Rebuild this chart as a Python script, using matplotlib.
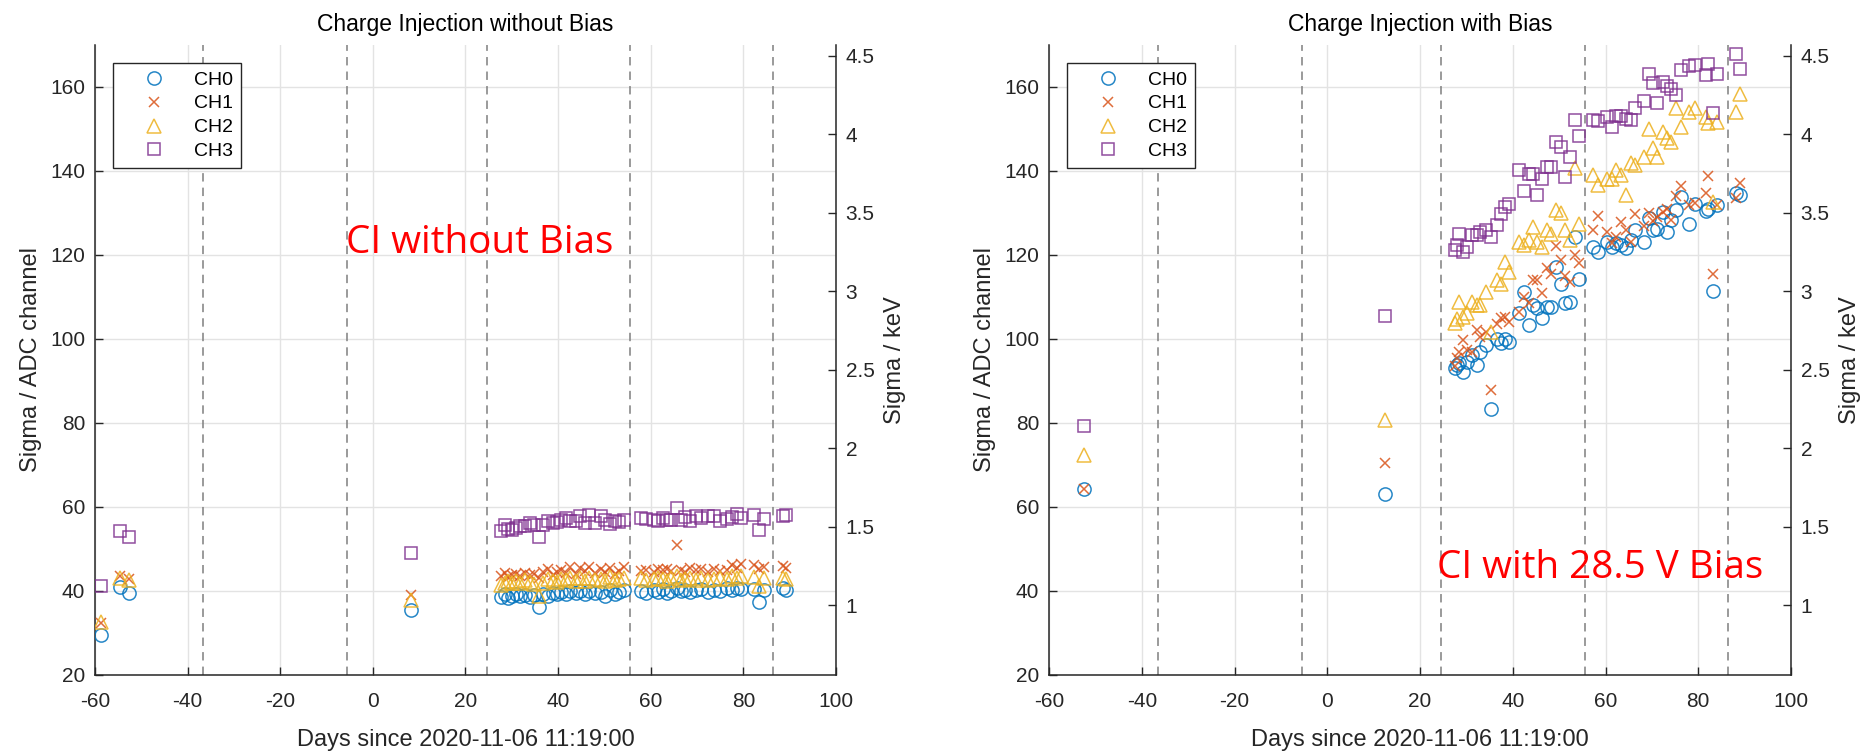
import numpy as np
import matplotlib
matplotlib.use("Agg")
import matplotlib.pyplot as plt
from matplotlib.ticker import FuncFormatter

# ---------------- data ----------------
channels = ["CH0", "CH1", "CH2", "CH3"]
colors = ["#0072BD", "#D95319", "#EDB120", "#7E2F8E"]
markers = ["o", "x", "^", "s"]
msizes = [9.5, 7.5, 10.5, 8.0]

dashed_days = [-36.6, -5.5, 24.6, 55.5, 86.4]

# Left panel: CI without bias
L_days = [-58.6, -54.6, -52.7, 8.3,
          27.7, 28.5, 29.2, 30.0, 30.8, 31.7, 32.8, 33.9, 34.8, 35.8,
          36.8, 37.8, 38.9, 39.8, 40.7, 41.6, 42.5, 43.8, 44.8, 45.7,
          46.6, 47.9, 49.2, 50.1, 51.1, 52.2, 53.2, 54.2, 57.9, 59.0,
          60.7, 61.5, 62.6, 63.5, 64.4, 65.6, 66.6, 67.5, 68.4, 69.8,
          70.9, 72.3, 73.7, 75.0, 76.4, 77.5, 78.6, 79.5, 82.4, 83.4,
          84.4, 88.5, 89.2]
L_ch0 = [29.5, 40.9, 39.5, 35.5,
         38.6, 39.2, 38.4, 38.9, 39.3, 38.7, 39.0, 38.5, 39.1, 36.3,
         39.4, 38.8, 39.6, 39.2, 39.8, 39.3, 40.0, 39.5, 39.9, 39.2,
         40.1, 39.6, 39.8, 38.9, 40.2, 39.4, 39.7, 40.3, 40.0, 39.6,
         40.2, 39.8, 40.4, 39.5, 40.1, 40.6, 39.9, 40.3, 39.7, 40.2,
         40.5, 39.8, 40.3, 40.0, 40.6, 40.2, 40.8, 40.4, 40.5, 37.5,
         40.3, 40.6, 40.2]
L_ch1 = [32.5, 43.5, 42.8, 39.0,
         43.6, 44.2, 43.3, 43.9, 44.0, 43.5, 44.4, 43.8, 44.1, 43.0,
         44.5, 45.2, 43.9, 44.6, 45.0, 44.3, 45.6, 44.1, 45.4, 44.8,
         45.8, 44.2, 45.3, 44.6, 45.5, 44.0, 44.7, 45.6, 44.8, 45.0,
         44.6, 45.2, 44.9, 45.3, 44.7, 51.0, 45.1, 44.5, 45.4, 44.9,
         45.2, 44.6, 45.3, 44.8, 45.0, 46.2, 45.5, 46.4, 46.3, 45.2,
         45.6, 46.0, 45.4]
L_ch2 = [32.7, 43.0, 42.6, 37.9,
         41.5, 42.0, 42.3, 41.8, 42.5, 41.9, 42.7, 42.2, 41.6, 38.7,
         42.0, 42.8, 42.4, 42.1, 42.9, 42.6, 43.1, 42.5, 43.0, 42.3,
         43.2, 42.7, 42.9, 42.4, 43.3, 42.6, 42.8, 43.0, 43.1, 42.7,
         42.9, 43.2, 42.8, 42.5, 43.0, 43.6, 42.6, 42.9, 43.1, 42.7,
         43.2, 42.6, 42.9, 43.0, 42.8, 43.5, 43.2, 43.6, 43.4, 41.1,
         43.0, 43.1, 42.9]
L_ch3 = [41.3, 54.3, 52.9, 49.0,
         54.4, 55.8, 54.8, 54.6, 55.0, 55.4, 55.4, 56.2, 55.6, 52.9,
         55.8, 56.6, 56.2, 56.4, 57.0, 57.4, 56.6, 56.6, 57.8, 56.2,
         58.2, 56.2, 57.8, 57.0, 56.0, 56.6, 56.4, 57.0, 57.4, 57.2,
         57.0, 56.6, 57.4, 57.0, 57.0, 59.8, 57.0, 57.6, 56.6, 57.8,
         57.4, 57.8, 57.8, 56.6, 57.1, 57.6, 58.4, 57.4, 58.2, 54.6,
         57.1, 57.8, 58.2]

# Right panel: CI with 28.5 V bias
R_days = [-52.5, 12.4,
          27.5, 27.9, 28.4, 29.3, 30.2, 31.3, 32.3, 33.0, 34.2, 35.4,
          36.5, 37.4, 38.3, 39.1, 41.3, 42.4, 43.5, 44.4, 45.3, 46.3,
          47.3, 48.3, 49.3, 50.3, 51.2, 52.3, 53.4, 54.3, 57.2, 58.3,
          60.3, 61.4, 62.3, 63.3, 64.4, 65.4, 66.3, 68.2, 69.3, 70.2,
          71.2, 72.3, 73.3, 74.2, 75.1, 76.2, 78.0, 79.2, 81.7, 82.2,
          83.2, 84.1, 88.1, 89.1]
R_ch0 = [64.4, 63.0,
         93.0, 93.8, 94.2, 92.2, 94.6, 96.2, 93.8, 97.0, 98.6, 83.3,
         100.1, 99.0, 100.1, 99.4, 106.1, 111.1, 103.3, 108.1, 107.3, 104.9,
         107.7, 107.7, 117.2, 113.2, 108.5, 108.9, 124.4, 114.4, 122.0, 120.8,
         123.2, 122.0, 122.8, 122.4, 121.6, 123.5, 125.9, 123.0, 128.7, 126.0,
         126.3, 130.3, 125.5, 128.3, 130.7, 133.9, 127.4, 132.1, 130.5, 130.9,
         111.4, 131.9, 134.8, 134.3]
R_ch1 = [64.4, 70.4,
         93.6, 95.5, 97.0, 99.8, 97.5, 97.0, 102.1, 100.5, 101.7, 87.8,
         103.5, 104.9, 105.3, 104.0, 106.5, 110.1, 108.5, 114.0, 114.0, 110.9,
         116.8, 115.5, 122.1, 118.8, 115.0, 113.6, 120.0, 118.0, 125.9, 129.3,
         125.5, 122.8, 124.4, 127.9, 126.0, 123.2, 129.7, 127.0, 129.9, 128.0,
         129.1, 130.3, 131.0, 128.3, 134.0, 136.4, 131.9, 132.5, 134.7, 138.8,
         115.5, 131.9, 133.5, 137.1]
R_ch2 = [72.5, 80.7,
         103.9, 104.7, 108.9, 105.3, 106.1, 108.9, 108.1, 108.1, 111.3, 101.7,
         114.0, 113.2, 118.4, 116.0, 123.2, 122.4, 123.6, 126.7, 123.2, 122.0,
         126.0, 125.0, 130.7, 129.9, 126.0, 123.6, 140.6, 127.5, 139.0, 136.7,
         138.2, 138.2, 140.2, 139.0, 134.3, 141.8, 141.4, 143.4, 150.1, 145.4,
         143.4, 149.4, 147.8, 147.0, 154.9, 150.5, 154.1, 154.9, 152.9, 151.5,
         132.7, 151.7, 154.1, 158.3]
R_ch3 = [79.4, 105.5,
         121.3, 122.5, 124.9, 120.6, 122.0, 124.8, 124.8, 125.5, 125.9, 124.4,
         127.1, 129.7, 131.5, 132.1, 140.2, 135.2, 139.2, 139.3, 134.4, 138.0,
         141.0, 141.0, 147.0, 145.6, 138.6, 143.4, 152.1, 148.4, 152.1, 151.9,
         152.9, 150.4, 153.1, 153.2, 152.3, 152.1, 155.1, 156.7, 163.1, 160.9,
         156.3, 161.1, 160.3, 159.5, 158.1, 164.0, 165.1, 165.2, 162.8, 165.5,
         153.7, 163.0, 167.8, 164.4]

xticks = list(range(-60, 101, 20))
yticks = list(range(20, 161, 20))
kev_ticks = [1, 1.5, 2, 2.5, 3, 3.5, 4, 4.5]
ADC_TO_KEV = 0.02675
KEV_OFFSET = 0.022

titles = ["Charge Injection without Bias", "Charge Injection with Bias"]
notes = ["CI without Bias", "CI with 28.5 V Bias"]
note_pos = [(-5.8, 120.5), (23.6, 43.0)]
xlabel = "Days since 2020-11-06 11:19:00"
ylabel_l = "Sigma / ADC channel"
ylabel_r = "Sigma / keV"

# ---------------- plotting ----------------
plt.rcParams["font.family"] = ["Liberation Sans", "DejaVu Sans"]
plt.rcParams["axes.unicode_minus"] = False
AXC = "#262626"

fig = plt.figure(figsize=(18.7, 7.52), dpi=100)
rects = [[95 / 1870, 77 / 752, 741 / 1870, 630 / 752],
         [1049 / 1870, 77 / 752, 742 / 1870, 630 / 752]]
panels = [(L_days, [L_ch0, L_ch1, L_ch2, L_ch3]),
          (R_days, [R_ch0, R_ch1, R_ch2, R_ch3])]

for i, (days, series) in enumerate(panels):
    ax = fig.add_axes(rects[i])
    ax.set_xlim(-60, 100)
    ax.set_ylim(20, 170)
    ax.set_xticks(xticks)
    ax.set_yticks(yticks)
    ax.grid(True, color="#e3e3e3", lw=1.0, zorder=0)
    ax.set_axisbelow(True)
    for d in dashed_days:
        ax.axvline(d, color="#7f7f7f", lw=1.1, ls=(0, (5.5, 4)), zorder=1)
    for k in range(4):
        if markers[k] == "x":
            ax.plot(days, series[k], ls="none", marker="x", ms=msizes[k],
                    mec=colors[k], mew=1.1, alpha=0.85, label=channels[k], zorder=3)
        else:
            ax.plot(days, series[k], ls="none", marker=markers[k], ms=msizes[k],
                    mfc="none", mec=colors[k], mew=1.1, alpha=0.85,
                    label=channels[k], zorder=3)
    ax.spines["top"].set_visible(False)
    ax.spines["right"].set_visible(False)
    for s in ("left", "bottom"):
        ax.spines[s].set_color(AXC)
        ax.spines[s].set_linewidth(1.1)
    ax.tick_params(direction="in", length=6, width=1.0, color=AXC,
                   labelcolor=AXC, labelsize=15)
    ax.tick_params(axis="x", pad=12)
    ax.tick_params(axis="y", pad=7)
    ax.set_xlabel(xlabel, fontsize=17, color=AXC, labelpad=13)
    ax.set_ylabel(ylabel_l, fontsize=17, color=AXC, labelpad=6)
    ax.set_title(titles[i], fontsize=16.5, color="black", pad=10)
    ax.text(note_pos[i][0], note_pos[i][1], notes[i], color="#ff0000",
            fontsize=27.8, family=["Open Sans", "DejaVu Sans"], va="baseline",
            ha="left", zorder=5)
    leg = ax.legend(loc="upper left", bbox_to_anchor=(0.024, 0.971),
                    borderaxespad=0, fontsize=14, frameon=True, fancybox=False,
                    edgecolor=AXC, framealpha=1, handlelength=3.4,
                    handletextpad=0.38, labelspacing=0.32, borderpad=0.4)
    leg.get_frame().set_linewidth(1.0)
    for t in leg.get_texts():
        t.set_color("black")

    ax2 = ax.twinx()
    ax2.set_ylim(20 * ADC_TO_KEV + KEV_OFFSET, 170 * ADC_TO_KEV + KEV_OFFSET)
    ax2.set_yticks(kev_ticks)
    ax2.yaxis.set_major_formatter(FuncFormatter(lambda v, p: "%g" % v))
    for s in ("top", "left", "bottom"):
        ax2.spines[s].set_visible(False)
    ax2.spines["right"].set_color(AXC)
    ax2.spines["right"].set_linewidth(1.1)
    ax2.tick_params(direction="in", length=6, width=1.0, color=AXC,
                    labelcolor=AXC, labelsize=15, pad=7)
    ax2.set_ylabel(ylabel_r, fontsize=17, color=AXC, labelpad=7)

fig.savefig("out.png", dpi=100)
